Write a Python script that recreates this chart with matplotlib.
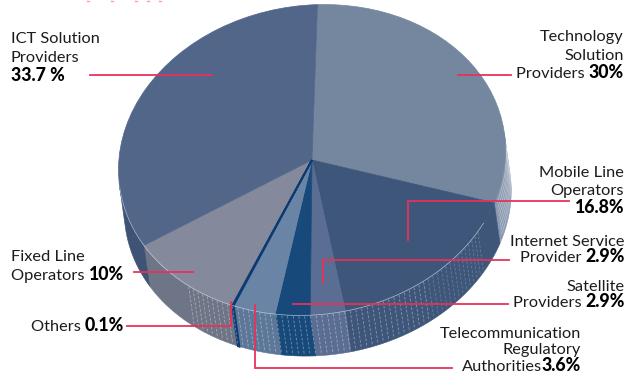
import numpy as np
import matplotlib
matplotlib.use("Agg")
import matplotlib.pyplot as plt
from matplotlib.patches import Polygon, Wedge
from matplotlib.transforms import Affine2D

# shares, clockwise from the top of the pie
categorias = ["Technology Solution Providers", "Mobile Line Operators", "Internet Service Provider",
              "Satellite Providers", "Telecommunication Regulatory Authorities", "Others",
              "Fixed Line Operators", "ICT Solution Providers"]
valores = [30, 16.8, 2.9, 2.9, 3.6, 0.1, 10, 33.7]
colores_tapa = ["#74879f", "#3e5679", "#5a6d92", "#17497a", "#6a84a5", "#0d3a73", "#848a9c", "#52668a"]
colores_pared = ["#8a9ab0", "#3e5679", "#5a6d92", "#17497a", "#5d7799", "#0d3a73", "#6d7586", "#3f5374"]

# geometry of the tilted disc, in pixels
CX, CY = 312, 160
A, B = 194.2, 154.6
GIRO = 8.0
ALTO = 41
INICIO = 82
ROSA = "#e8315b"

fig = plt.figure(figsize=(6.4, 3.73), dpi=100)
ax = fig.add_axes([0, 0, 1, 1])
ax.set_xlim(0, 640)
ax.set_ylim(373, 0)
ax.axis("off")

r = np.radians(GIRO)
dx, dy = ALTO * np.sin(r), ALTO * np.cos(r)
disco = Affine2D().scale(A, -B).rotate_deg(-GIRO).translate(CX, CY) + ax.transData


def punto(t, h=0.0):
    t = np.radians(t)
    X, Y = A * np.cos(t), -B * np.sin(t)
    return (CX + X * np.cos(r) + Y * np.sin(r) + dx * h,
            CY - X * np.sin(r) + Y * np.cos(r) + dy * h)


# angle limits of each slice
angulos = INICIO - np.cumsum([0] + [v * 3.6 for v in valores])

# side wall first, the lid goes on top of it
for i, color in enumerate(colores_pared):
    ini, fin = min(angulos[i], 0), max(angulos[i + 1], -180)
    if ini <= fin:
        continue
    ts = np.linspace(ini, fin, 60)
    x0, y0 = punto(ts)
    x1, y1 = punto(ts[::-1], 1)
    grosor = 1.6 if valores[i] < 1 else 0.4
    ax.add_patch(Polygon(np.column_stack([np.r_[x0, x1], np.r_[y0, y1]]),
                         facecolor=color, edgecolor=color, lw=grosor, zorder=1 + (valores[i] < 1)))

# pale hatching on the wall
for t in np.arange(-136, -37, 1.7):
    x, y = punto(np.array([t, t]), np.array([0.02, 0.98]))
    alfa = 0.42 if t < -60 else 0.24
    ax.plot(x, y, color="white", lw=0.55, alpha=alfa, dashes=(3.5, 2.2), zorder=2)
for h in np.arange(0.12, 1, 0.11):
    ts = np.linspace(-24, -2, 30)
    x, y = punto(ts, h)
    ax.plot(x, y, color="white", lw=0.5, alpha=0.4, zorder=2)

# lid
for i, color in enumerate(colores_tapa):
    t1, t2 = angulos[i + 1], angulos[i]
    grosor = 1.4 if valores[i] < 1 else 0.5
    ax.add_patch(Wedge((0, 0), 1, t1, t2, facecolor=color, edgecolor=color, lw=grosor,
                       transform=disco, zorder=3 + (valores[i] < 1)))

# pale rim along the front
ts = np.linspace(-157.5, -34, 200)
x, y = punto(ts)
ax.plot(x, y, color="#cfd6e0", lw=0.5, alpha=0.8, zorder=4)
ts = np.linspace(-180, -157.5, 40)
x, y = punto(ts)
ax.plot(x, y, color="#aab5c6", lw=0.5, zorder=4)

# leader lines
lineas = [
    [(90, 75), (212, 75)],
    [(458, 75), (511, 75)],
    [(408, 240), (408, 201), (569, 201)],
    [(323, 283), (323, 260), (509, 260)],
    [(293, 304), (508, 304)],
    [(255, 305), (255, 368), (452, 368)],
    [(127, 326), (231, 326), (231, 302)],
    [(134, 272), (193, 272)],
]
for linea in lineas:
    xs, ys = zip(*linea)
    ax.plot(xs, ys, color=ROSA, lw=1.3, zorder=5, solid_joinstyle="miter")

# clipped remains of a heading along the top edge
for x in [88, 112, 136, 148, 160]:
    ax.plot([x - 1, x + 1], [0.5, 0.5], color="#f7a0b4", lw=1, zorder=5)

FUENTE = "Lato"
TAM = 11.8
TAM_NEGRITA = 12.8
TINTA = "#1c1c1c"
fig.canvas.draw()
rend = fig.canvas.get_renderer()


def texto(x, y, normal, negrita="", derecha=True):
    # one line, regular part followed by the bold figure
    partes = [(normal, "normal", TINTA, TAM), (negrita, "black", "black", TAM_NEGRITA)]
    medidas = []
    for s, peso, c, tam in partes:
        if not s:
            medidas.append(0)
            continue
        t = ax.text(0, 0, s.replace(" ", "\u00a0"), family=FUENTE, weight=peso, size=tam)
        medidas.append(t.get_window_extent(rend).width)
        t.remove()
    inicio = x - sum(medidas) if derecha else x
    for (s, peso, c, tam), m in zip(partes, medidas):
        if s:
            ax.text(inicio, y, s.replace(" ", "\u00a0"), family=FUENTE, weight=peso, size=tam,
                    color=c, ha="left", va="baseline", zorder=6)
        inicio += m


texto(11, 43, "ICT Solution", derecha=False)
texto(11, 62, "Providers", derecha=False)
texto(11, 81, "", "33.7 %", derecha=False)
texto(624, 41, "Technology")
texto(624, 60, "Solution")
texto(624, 78, "Providers ", "30%")
texto(624, 177, "Mobile Line")
texto(624, 195, "Operators")
texto(624, 213, "", "16.8%")
texto(625, 246, "Internet Service")
texto(625, 262, "Provider ", "2.9%")
texto(625, 291, "Satellite")
texto(625, 307, "Providers ", "2.9%")
texto(581, 338, "Telecommunication")
texto(581, 354, "Regulatory")
texto(581, 371, "Authorities", "3.6%")
texto(11, 261, "Fixed Line", derecha=False)
texto(11, 280, "Operators ", "10%", derecha=False)
texto(124, 331, "Others ", "0.1%")

fig.savefig("out.png", dpi=100, facecolor="white")
